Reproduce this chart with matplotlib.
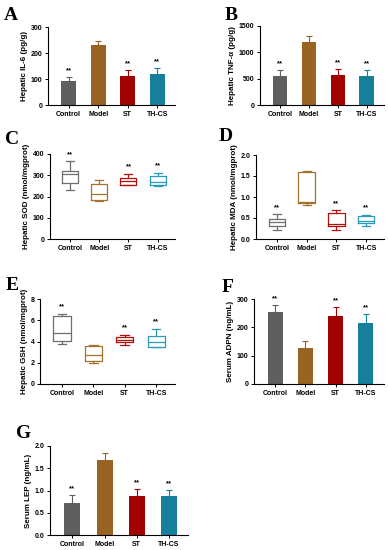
import matplotlib.pyplot as plt
from matplotlib.ticker import FormatStrFormatter

# groups and colours
groups = ['Control', 'Model', 'ST', 'TH-CS']
bar_colors = ['#5f5f5f', '#996422', '#a30000', '#167f9a']
box_colors = ['#6e6e6e', '#a3722c', '#b00d0d', '#2a9ab8']
stars = ['**', '', '**', '**']

# bar panels: mean, error (SD)
il6 = [92, 232, 110, 119]
il6_err = [14, 16, 23, 25]
tnf = [550, 1203, 570, 550]
tnf_err = [115, 107, 107, 115]
adpn = [254, 127, 241, 215]
adpn_err = [24, 26, 30, 32]
lep = [0.72, 1.68, 0.88, 0.88]
lep_err = [0.18, 0.17, 0.16, 0.14]

# box panels: (low whisker, q1, median, q3, high whisker)
sod = [(229, 263, 307, 322, 365), (177, 183, 212, 260, 276),
       (252, 256, 271, 287, 306), (248, 256, 268, 298, 310)]
mda = [(0.21, 0.32, 0.40, 0.48, 0.59), (0.80, 0.85, 0.89, 1.59, 1.62),
       (0.22, 0.30, 0.36, 0.61, 0.68), (0.30, 0.38, 0.43, 0.55, 0.58)]
gsh = [(3.76, 4.08, 4.80, 6.37, 6.59), (1.98, 2.20, 2.70, 3.60, 3.70),
       (3.70, 3.92, 4.17, 4.39, 4.64), (3.48, 3.48, 4.00, 4.55, 5.18)]

plt.rcParams['font.family'] = ['Liberation Sans', 'DejaVu Sans']
plt.rcParams['font.weight'] = 'bold'

fig = plt.figure(figsize=(3.88, 5.5), dpi=100)
W, H = 388.0, 550.0


def make_axes(l, r, t, b):
    return fig.add_axes([l / W, 1 - b / H, (r - l) / W, (b - t) / H])


def style(ax, ylim, yticks, ylabel, fmt=None):
    ax.spines['top'].set_visible(False)
    ax.spines['right'].set_visible(False)
    for s in ['left', 'bottom']:
        ax.spines[s].set_linewidth(0.8)
    ax.set_xlim(-0.7, 3.6)
    ax.set_ylim(*ylim)
    ax.set_yticks(yticks)
    if fmt:
        ax.yaxis.set_major_formatter(FormatStrFormatter(fmt))
    ax.set_xticks(range(4))
    ax.set_xticklabels(groups)
    ax.tick_params(labelsize=5, width=0.7, length=2.5, pad=1.5)
    ax.set_ylabel(ylabel, fontsize=5.8, fontweight='bold', labelpad=2)


def bar_panel(ax, vals, errs):
    x = range(4)
    ax.bar(x, vals, width=0.5, color=bar_colors, zorder=2)
    for i in x:
        ax.errorbar(i, vals[i], yerr=[[0], [errs[i]]], fmt='none',
                    ecolor=bar_colors[i], elinewidth=0.8, capsize=2.2,
                    capthick=0.8, zorder=1)
        if stars[i]:
            ax.annotate(stars[i], (i, vals[i] + errs[i]), xytext=(0, 2),
                        textcoords='offset points', ha='center', va='bottom',
                        fontsize=5.5, fontweight='bold')


def box_panel(ax, data):
    stats = [dict(whislo=d[0], q1=d[1], med=d[2], q3=d[3], whishi=d[4],
                  fliers=[]) for d in data]
    art = ax.bxp(stats, positions=range(4), widths=0.55, showfliers=False)
    for i, c in enumerate(box_colors):
        art['boxes'][i].set(color=c, linewidth=0.9)
        art['medians'][i].set(color=c, linewidth=0.9)
        for j in (2 * i, 2 * i + 1):
            art['whiskers'][j].set(color=c, linewidth=0.9)
            art['caps'][j].set(color=c, linewidth=0.9)
        if stars[i]:
            ax.annotate(stars[i], (i, data[i][4]), xytext=(0, 2.5),
                        textcoords='offset points', ha='center', va='bottom',
                        fontsize=5.5, fontweight='bold')


def letter(x, y, s):
    fig.text(x / W, 1 - y / H, s, fontsize=14, fontweight='bold',
             family='Liberation Serif', ha='center', va='center')


# A
ax = make_axes(48, 175, 27, 105)
bar_panel(ax, il6, il6_err)
style(ax, (0, 300), [0, 100, 200, 300], 'Hepatic IL-6 (pg/g)')
letter(11, 15, 'A')

# B
ax = make_axes(260, 384, 26, 105)
bar_panel(ax, tnf, tnf_err)
style(ax, (0, 1500), [0, 500, 1000, 1500], 'Hepatic TNF-α (pg/g)')
letter(231, 15, 'B')

# C
ax = make_axes(50, 175, 154, 239)
box_panel(ax, sod)
style(ax, (0, 400), [0, 100, 200, 300, 400], 'Hepatic SOD (nmol/mgprot)')
letter(12, 140, 'C')

# D
ax = make_axes(256, 384, 155, 239)
box_panel(ax, mda)
style(ax, (0, 2.0), [0, 0.5, 1.0, 1.5, 2.0], 'Hepatic MDA (nmol/mgprot)', '%.1f')
letter(226, 137, 'D')

# E
ax = make_axes(40, 175, 299, 384)
box_panel(ax, gsh)
style(ax, (0, 8), [0, 2, 4, 6, 8], 'Hepatic GSH (nmol/mgprot)')
letter(12, 286, 'E')

# F
ax = make_axes(254, 384, 299, 384)
bar_panel(ax, adpn, adpn_err)
style(ax, (0, 300), [0, 100, 200, 300], 'Serum ADPN (ng/mL)')
letter(228, 287, 'F')

# G
ax = make_axes(50, 188, 446, 535)
bar_panel(ax, lep, lep_err)
style(ax, (0, 2.0), [0, 0.5, 1.0, 1.5, 2.0], 'Serum LEP (ng/mL)', '%.1f')
letter(24, 433, 'G')

fig.savefig('out.png', dpi=100)
